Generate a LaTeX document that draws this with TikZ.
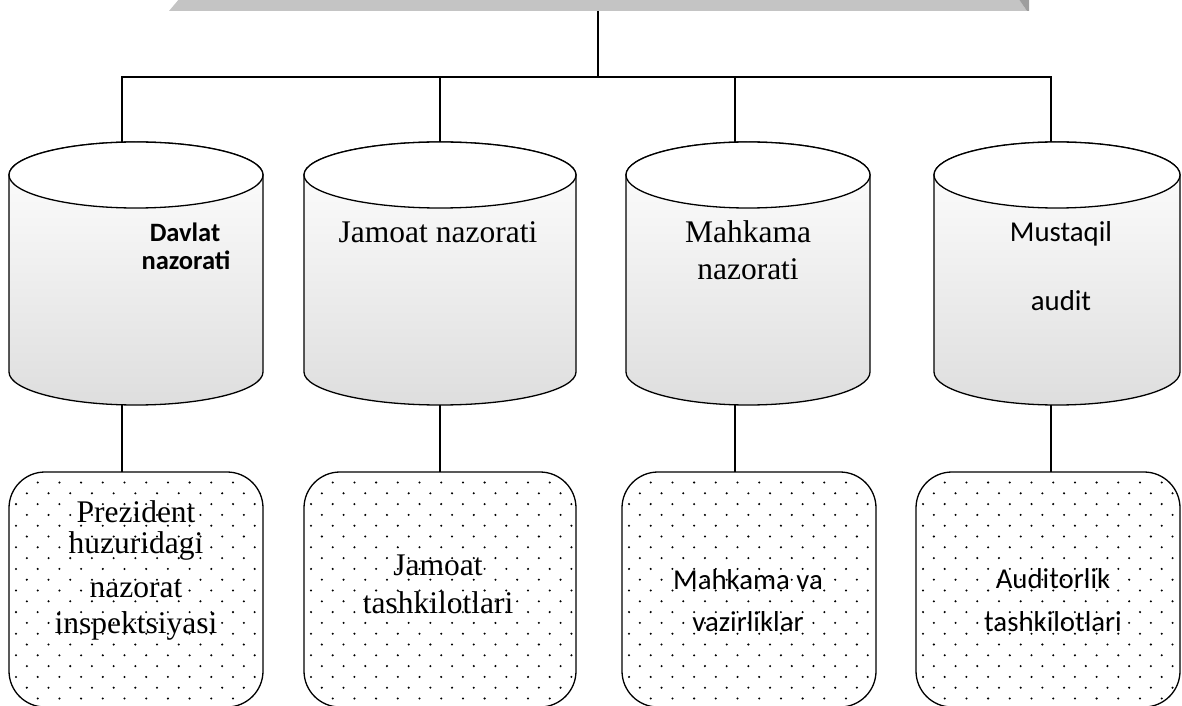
\documentclass[tikz,border=0pt]{standalone}
\usepackage{fontspec}
\setmainfont{Liberation Serif}
\newfontfamily\carl{Carlito}
\definecolor{bevlight}{RGB}{196,196,196}
\definecolor{bevdark}{RGB}{158,158,158}
\newcommand\cylshape[2]{% cx, rx
  \shadedraw[top color=white, bottom color=black!13, outl]
    ({#1-#2},530) -- ({#1-#2},333) arc[start angle=180,end angle=360,x radius=#2pt,y radius=33pt]
    -- ({#1+#2},530) arc[start angle=0,end angle=180,x radius=#2pt,y radius=33pt] -- cycle;
  \draw[outl, fill=white] (#1,530) ellipse [x radius=#2pt, y radius=33pt];
}
\newcommand\mydotpattern[2]{% x1, x2
  \begin{scope}
    \clip[rounded corners=35pt] ({#1+1.5},-2) rectangle ({#2-1.5},231.5);
    \foreach \r in {0,...,22}{%
      \pgfmathsetmacro\yy{222.5-\r*10.8}%
      \pgfmathsetmacro\xo{#1+7+mod(\r,2)*10.85}%
      \foreach \c in {0,...,12}{%
        \fill ({\xo+\c*21.7},\yy) circle (1.15pt);
      }
    }
  \end{scope}
}
\begin{document}
\begin{tikzpicture}[x=1pt,y=1pt,
  conn/.style={line width=1.4pt, black},
  outl/.style={line width=1.3pt, draw=black},
  lbl/.style={inner sep=0pt, anchor=base},
  serif/.style={lbl, font=\fontsize{31.5}{36}\selectfont},
  sans/.style={lbl, font=\carl\fontsize{28.8}{34}\selectfont},
  bsans/.style={lbl, font=\carl\bfseries\fontsize{26.5}{32}\selectfont},
  holder/.style={inner sep=0pt, outer sep=0pt, draw=none},
  dbox/.style={draw, line width=1.3pt, rounded corners=36pt, inner sep=0pt, outer sep=0pt, fill=white},
]
\useasboundingbox (0,0) rectangle (1182,705);
\clip (0,0) rectangle (1182,705);

% top bevelled box (cut off at the top)
\node[holder, minimum width=860pt, minimum height=12pt] (top) at (598,700) {};
\fill[bevlight] (180,707) -- (1018,707) -- (1027,694) -- (169,694) -- cycle;
\fill[bevdark] (1018,707) -- (1029,707) -- (1029,694) -- (1027,694) -- cycle;

% cylinders
\node[holder, minimum width=254pt, minimum height=263pt] (c1) at (136,431.5) {};
\node[holder, minimum width=272pt, minimum height=263pt] (c2) at (440,431.5) {};
\node[holder, minimum width=244pt, minimum height=263pt] (c3) at (748,431.5) {};
\node[holder, minimum width=246pt, minimum height=263pt] (c4) at (1057,431.5) {};
\cylshape{136}{127}
\cylshape{440}{136}
\cylshape{748}{122}
\cylshape{1057}{123}

% dotted rounded boxes
\node[dbox, minimum width=254pt, minimum height=235pt] (b1) at (136,115.5) {};
\node[dbox, minimum width=272pt, minimum height=235pt] (b2) at (440,115.5) {};
\node[dbox, minimum width=254pt, minimum height=235pt] (b3) at (749,115.5) {};
\node[dbox, minimum width=264pt, minimum height=235pt] (b4) at (1048,115.5) {};
\mydotpattern{9}{263}
\mydotpattern{304}{576}
\mydotpattern{622}{876}
\mydotpattern{916}{1180}

% connectors
\coordinate (bl) at (122,628);
\coordinate (d2) at (440,628);
\coordinate (d3) at (735,628);
\coordinate (br) at (1051,628);
\draw[conn] (top.south) -- (top.south |- bl);
\draw[conn, line join=miter] (c1.north -| bl) -- (bl) -- (br) -- (c4.north -| br);
\draw[conn] (d2) -- (d2 |- c2.north);
\draw[conn] (d3) -- (d3 |- c3.north);
\draw[conn] (c1.south -| bl) -- (b1.north -| bl);
\draw[conn] (c2.south) -- (b2.north -| c2.south);
\draw[conn] (c3.south -| d3) -- (b3.north -| d3);
\draw[conn] ([yshift=0.5pt]c4.south -| br) -- (b4.north -| br);

% cylinder labels
\node[bsans] (t1a) at (185,463) {Davlat};
\node[bsans] (t1b) at (186,435) {nazorati};
\node[serif] (t2) at (438,462) {Jamoat nazorati};
\node[serif] (t3a) at (748,462) {Mahkama};
\node[serif] (t3b) at (748,425) {nazorati};
\node[sans] (t4a) at (1061,463) {Mustaqil};
\node[sans] (t4b) at (1061,395) {audit};

% box labels
\node[serif] (p1) at (136,183) {Prezident};
\node[serif] (p2) at (136,152) {huzuridagi};
\node[serif] (p3) at (136,108) {nazorat};
\node[serif] (p4) at (136,72) {inspektsiyasi};
\node[serif] (q1) at (438,130) {Jamoat};
\node[serif] (q2) at (438,92) {tashkilotlari};
\node[sans] (r1) at (748,116) {Mahkama va};
\node[sans] (r2) at (748,74) {vazirliklar};
\node[sans] (s1) at (1053,117) {Auditorlik};
\node[sans] (s2) at (1053,74) {tashkilotlari};
\end{tikzpicture}
\end{document}
